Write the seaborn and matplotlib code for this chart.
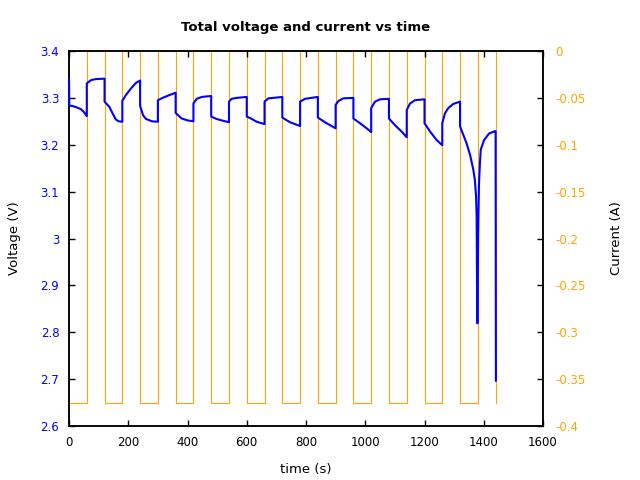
import matplotlib
matplotlib.use("Agg")
import pandas as pd
import seaborn as sns
import matplotlib.pyplot as plt
from matplotlib.ticker import FuncFormatter, MultipleLocator

# Voltage readings (time in s, volts)
volt_t = [0, 1, 10, 25, 40, 50, 60,
          60, 64, 75, 90, 120,
          120, 130, 136, 147, 158, 168, 180,
          180, 192, 209, 226, 237, 240,
          240, 250, 260, 280, 300,
          300, 316, 339, 360,
          360, 370, 380, 400, 420,
          420, 431, 448, 480,
          480, 498, 521, 540,
          540, 549, 566, 600,
          600, 611, 634, 660,
          660, 673, 690, 720,
          720, 746, 780,
          780, 797, 840,
          840, 864, 900,
          900, 909, 926, 960,
          960, 982, 1005, 1020,
          1020, 1033, 1050, 1080,
          1080, 1100, 1123, 1140,
          1140, 1151, 1168, 1200,
          1200, 1219, 1241, 1260,
          1260, 1269, 1280, 1297, 1320,
          1320, 1331, 1342, 1354, 1365, 1370, 1374, 1376, 1378,
          1379, 1381, 1384, 1387, 1390, 1401, 1418, 1438, 1440,
          1441]
volt_v = [3.340, 3.283, 3.283, 3.280, 3.276, 3.270, 3.261,
          3.331, 3.333, 3.338, 3.340, 3.341,
          3.292, 3.285, 3.281, 3.267, 3.254, 3.250, 3.249,
          3.294, 3.306, 3.320, 3.332, 3.336, 3.337,
          3.283, 3.263, 3.255, 3.250, 3.249,
          3.295, 3.300, 3.306, 3.311,
          3.268, 3.262, 3.256, 3.252, 3.250,
          3.288, 3.298, 3.302, 3.304,
          3.260, 3.255, 3.251, 3.248,
          3.292, 3.298, 3.300, 3.302,
          3.260, 3.257, 3.249, 3.244,
          3.292, 3.299, 3.300, 3.302,
          3.258, 3.248, 3.240,
          3.292, 3.298, 3.302,
          3.258, 3.248, 3.235,
          3.285, 3.293, 3.299, 3.300,
          3.256, 3.246, 3.235, 3.227,
          3.278, 3.292, 3.297, 3.298,
          3.256, 3.242, 3.228, 3.216,
          3.274, 3.288, 3.295, 3.297,
          3.246, 3.228, 3.210, 3.199,
          3.246, 3.267, 3.278, 3.287, 3.292,
          3.239, 3.221, 3.203, 3.178, 3.146, 3.125, 3.090, 3.046, 2.819,
          2.819, 3.010, 3.118, 3.160, 3.190, 3.210, 3.224, 3.229, 3.229,
          2.696]

# Current steps (time in s, amps), drawn with steps-post
curr_t = [0, 60, 120, 180, 240, 300, 360, 420, 480, 540, 600, 660, 720,
          780, 840, 900, 960, 1020, 1080, 1140, 1200, 1260, 1320, 1380,
          1440, 1441]
curr_a = [-0.375, 0, -0.375, 0, -0.375, 0, -0.375, 0, -0.375, 0, -0.375, 0,
          -0.375, 0, -0.375, 0, -0.375, 0, -0.375, 0, -0.375, 0, -0.375, 0,
          -0.375, -0.375]

volt_df = pd.DataFrame({"time": volt_t, "voltage": volt_v})
curr_df = pd.DataFrame({"time": curr_t, "current": curr_a})

sns.set_style("white")
plt.rcParams["font.family"] = ["DejaVu Sans"]
plt.rcParams["font.size"] = 9.5
plt.rcParams["text.color"] = "black"
plt.rcParams["axes.labelcolor"] = "black"

fig = plt.figure(figsize=(6.4, 4.8), dpi=100)
ax = fig.add_axes([69 / 640, 54 / 480, 474 / 640, 375 / 480])
ax2 = ax.twinx()

# current behind voltage
ax2.set_zorder(1)
ax.set_zorder(2)
ax.patch.set_visible(False)

sns.lineplot(data=curr_df, x="time", y="current", ax=ax2, color="#ffa500",
             linewidth=0.8, estimator=None, sort=False, drawstyle="steps-post")
sns.lineplot(data=volt_df, x="time", y="voltage", ax=ax, color="#0000ff",
             linewidth=1.5, estimator=None, sort=False, zorder=3,
             clip_on=False)

ax.set_xlim(0, 1600)
ax.set_ylim(2.6, 3.4)
ax2.set_ylim(-0.4, 0)
ax.xaxis.set_major_locator(MultipleLocator(200))
ax.yaxis.set_major_locator(MultipleLocator(0.1))
ax2.yaxis.set_major_locator(MultipleLocator(0.05))
fmt = FuncFormatter(lambda v, p: ("%g" % round(v, 4)).replace("\u2212", "-"))
ax.yaxis.set_major_formatter(fmt)
ax2.yaxis.set_major_formatter(fmt)
ax.xaxis.set_major_formatter(FuncFormatter(lambda v, p: "%d" % v))

ax.tick_params(axis="x", direction="in", length=4, width=1, top=True,
               bottom=True, pad=7, labelsize=8.5, colors="black")
ax.tick_params(axis="y", direction="in", length=4, width=1, left=True,
               right=False, pad=7, labelsize=8.5, colors="black",
               labelcolor="#0000ff")
ax2.tick_params(axis="y", direction="in", length=4, width=1, right=True,
                pad=9, labelsize=8.5, colors="black", labelcolor="#ffa500")

for a in (ax, ax2):
    for s in a.spines.values():
        s.set_visible(True)
        s.set_color("black")
        s.set_linewidth(1.1)

ax.set_xlabel("time (s)")
ax.set_ylabel("Voltage (V)")
ax2.set_ylabel("Current (A)")
ax.xaxis.set_label_coords(0.5, -0.115)
ax.yaxis.set_label_coords(-0.116, 0.5)
ax2.yaxis.set_label_coords(1.156, 0.5)
ax.xaxis.label.set_va("center")
ax.yaxis.label.set_va("center")
ax2.yaxis.label.set_va("center")

fig.text(306 / 640, 1 - 27 / 480, "Total voltage and current vs time",
         ha="center", va="center", fontsize=9.5, fontweight="bold")

fig.savefig("out.png", dpi=100)
